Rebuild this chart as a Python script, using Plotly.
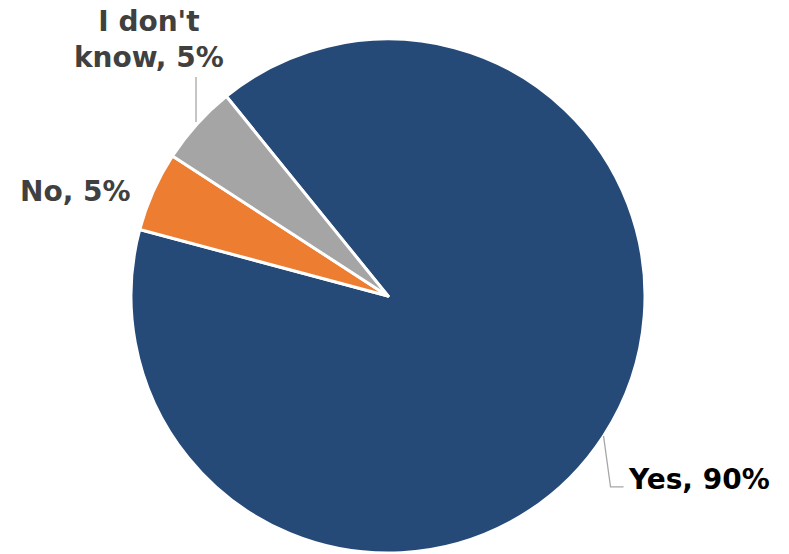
import math
import plotly.graph_objects as go

# Survey responses
labels = ["Yes", "No", "I don't know"]
shares = [90, 5, 5]
label_text = ["Yes, 90%", "No, 5%", "I don't<br>know, 5%"]
colors = ["#264A78", "#ED7D31", "#A5A5A5"]
text_colors = ["#000000", "#404040", "#404040"]

W, H = 789, 554
ML, MR, MT, MB = 131, 144, 39, 1
ROTATION = -39  # start angle of the first slice, degrees from 12 o'clock

plot_w = W - ML - MR
plot_h = H - MT - MB
R = min(plot_w, plot_h) / 2
CX = ML + plot_w / 2
CY = MT + plot_h / 2


def to_paper(px, py):
    return (px - ML) / plot_w, (H - MB - py) / plot_h


def mid_angle(i):
    total = sum(shares)
    start = ROTATION + 360 * sum(shares[:i]) / total
    return start + 180 * shares[i] / total


def edge_point(i, extra=0.0):
    a = math.radians(mid_angle(i))
    return CX + (R + extra) * math.sin(a), CY - (R + extra) * math.cos(a)


fig = go.Figure(
    go.Pie(
        labels=labels,
        values=shares,
        sort=False,
        direction="clockwise",
        rotation=ROTATION,
        marker=dict(colors=colors, line=dict(color="white", width=3)),
        textinfo="none",
        hoverinfo="label+percent",
        showlegend=False,
    )
)

font_family = "DejaVu Sans"
font_size = 28
line_style = dict(color="#A6A6A6", width=1.3)
shapes = []
annotations = []

# Yes: elbow leader line down and to the right
ex, ey = edge_point(0)
x1, y1 = to_paper(ex, ey)
x2, y2 = to_paper(ex + 7, ey + 51)
x3, y3 = to_paper(ex + 20, ey + 51)
shapes.append(dict(type="path", xref="paper", yref="paper",
                   path=f"M {x1},{y1} L {x2},{y2} L {x3},{y3}", line=line_style))
tx, ty = to_paper(ex + 22, ey + 44)
annotations.append(dict(x=tx, y=ty, xref="paper", yref="paper", text=label_text[0],
                        showarrow=False, xanchor="left", yanchor="middle",
                        font=dict(family=font_family, size=font_size, color=text_colors[0], weight="bold")))

# No: label to the left of the slice
ex, ey = edge_point(1)
tx, ty = to_paper(ex - 20, ey)
annotations.append(dict(x=tx, y=ty, xref="paper", yref="paper", text=label_text[1],
                        showarrow=False, xanchor="right", yanchor="middle",
                        font=dict(family=font_family, size=font_size, color=text_colors[1], weight="bold")))

# I don't know: vertical leader line up to a two-line label
ex, ey = edge_point(2)
x1, y1 = to_paper(ex - 1, ey - 2)
x2, y2 = to_paper(ex - 1, ey - 47)
shapes.append(dict(type="line", xref="paper", yref="paper",
                   x0=x1, y0=y1, x1=x2, y1=y2, line=line_style))
tx, ty = to_paper(ex - 48, ey - 85)
annotations.append(dict(x=tx, y=ty, xref="paper", yref="paper", text=label_text[2],
                        showarrow=False, xanchor="center", yanchor="middle",
                        align="center",
                        font=dict(family=font_family, size=font_size, color=text_colors[2], weight="bold")))

fig.update_layout(
    width=W,
    height=H,
    margin=dict(l=ML, r=MR, t=MT, b=MB),
    paper_bgcolor="white",
    plot_bgcolor="white",
    shapes=shapes,
    annotations=annotations,
)

fig.write_html("out.html")
